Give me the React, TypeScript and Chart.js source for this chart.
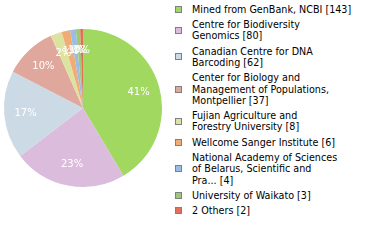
import React, { useEffect, useRef } from "react";
import { Chart, PieController, ArcElement } from "chart.js";

Chart.register(PieController, ArcElement);

const categories = [
  "Mined from GenBank, NCBI",
  "Centre for Biodiversity Genomics",
  "Canadian Centre for DNA Barcoding",
  "Center for Biology and Management of Populations, Montpellier",
  "Fujian Agriculture and Forestry University",
  "Wellcome Sanger Institute",
  "National Academy of Sciences of Belarus, Scientific and Pra...",
  "University of Waikato",
  "2 Others",
];
const counts = [143, 80, 62, 37, 8, 6, 4, 3, 2];
const colors = [
  "#a0d860",
  "#dcbcdc",
  "#ccdae6",
  "#e0a89c",
  "#dce3a0",
  "#f0ac74",
  "#9cbce4",
  "#9cc878",
  "#e07058",
];

const total = counts.reduce((a, b) => a + b, 0);
const percentLabels = counts.map((c) => `${Math.floor((c / total) * 100)}%`);
const legendLabels = categories.map((c, i) => `${c} [${counts[i]}]`);

function wrapText(text: string, maxChars: number): string[] {
  const words = text.split(" ");
  const lines: string[] = [];
  let cur = "";
  for (const w of words) {
    const next = cur ? cur + " " + w : w;
    if (next.length > maxChars && cur) {
      lines.push(cur);
      cur = w;
    } else {
      cur = next;
    }
  }
  if (cur) lines.push(cur);
  return lines;
}

const percentPlugin = {
  id: "percentLabels",
  afterDatasetsDraw(chart: any) {
    const ctx = chart.ctx;
    const meta = chart.getDatasetMeta(0);
    ctx.save();
    ctx.fillStyle = "#ffffff";
    ctx.font = '10px "DejaVu Sans"';
    ctx.textAlign = "center";
    ctx.textBaseline = "middle";
    meta.data.forEach((arc: any, i: number) => {
      const p = arc.getProps(["x", "y", "startAngle", "endAngle", "outerRadius"], true);
      const mid = (p.startAngle + p.endAngle) / 2;
      const r = p.outerRadius * 0.73;
      ctx.fillText(percentLabels[i], p.x + Math.cos(mid) * r, p.y + Math.sin(mid) * r);
    });
    ctx.restore();
  },
};

export default function App() {
  const ref = useRef<HTMLCanvasElement | null>(null);
  useEffect(() => {
    if (!ref.current) return;
    const chart = new Chart(ref.current, {
      type: "pie",
      data: {
        labels: categories,
        datasets: [
          {
            data: counts,
            backgroundColor: colors,
            borderWidth: 0,
          },
        ],
      },
      options: {
        responsive: false,
        animation: false,
        layout: { padding: 4 },
        plugins: { legend: { display: false }, tooltip: { enabled: false } },
      },
      plugins: [percentPlugin],
    });
    return () => chart.destroy();
  }, []);

  return (
    <div
      style={{
        position: "fixed",
        left: 0,
        top: 0,
        width: 380,
        height: 240,
        background: "#ffffff",
        fontFamily: '"DejaVu Sans", sans-serif',
      }}
    >
      <canvas
        ref={ref}
        width={166}
        height={216}
        style={{ position: "absolute", left: 0, top: 0, width: 166, height: 216 }}
      />
      <div style={{ position: "absolute", left: 175, top: 3.8 }}>
        {legendLabels.map((lab, i) => (
          <div
            key={i}
            style={{ display: "flex", alignItems: "center", marginBottom: 4.2 }}
          >
            <div
              style={{
                width: 7,
                height: 7,
                boxSizing: "border-box",
                border: "1px solid #808080",
                background: colors[i],
                flexShrink: 0,
              }}
            />
            <div
              style={{
                marginLeft: 10,
                fontSize: 9.6,
                lineHeight: "11.2px",
                color: "#000",
                whiteSpace: "nowrap",
              }}
            >
              {wrapText(lab, 30).map((l, j) => (
                <div key={j}>{l}</div>
              ))}
            </div>
          </div>
        ))}
      </div>
    </div>
  );
}
